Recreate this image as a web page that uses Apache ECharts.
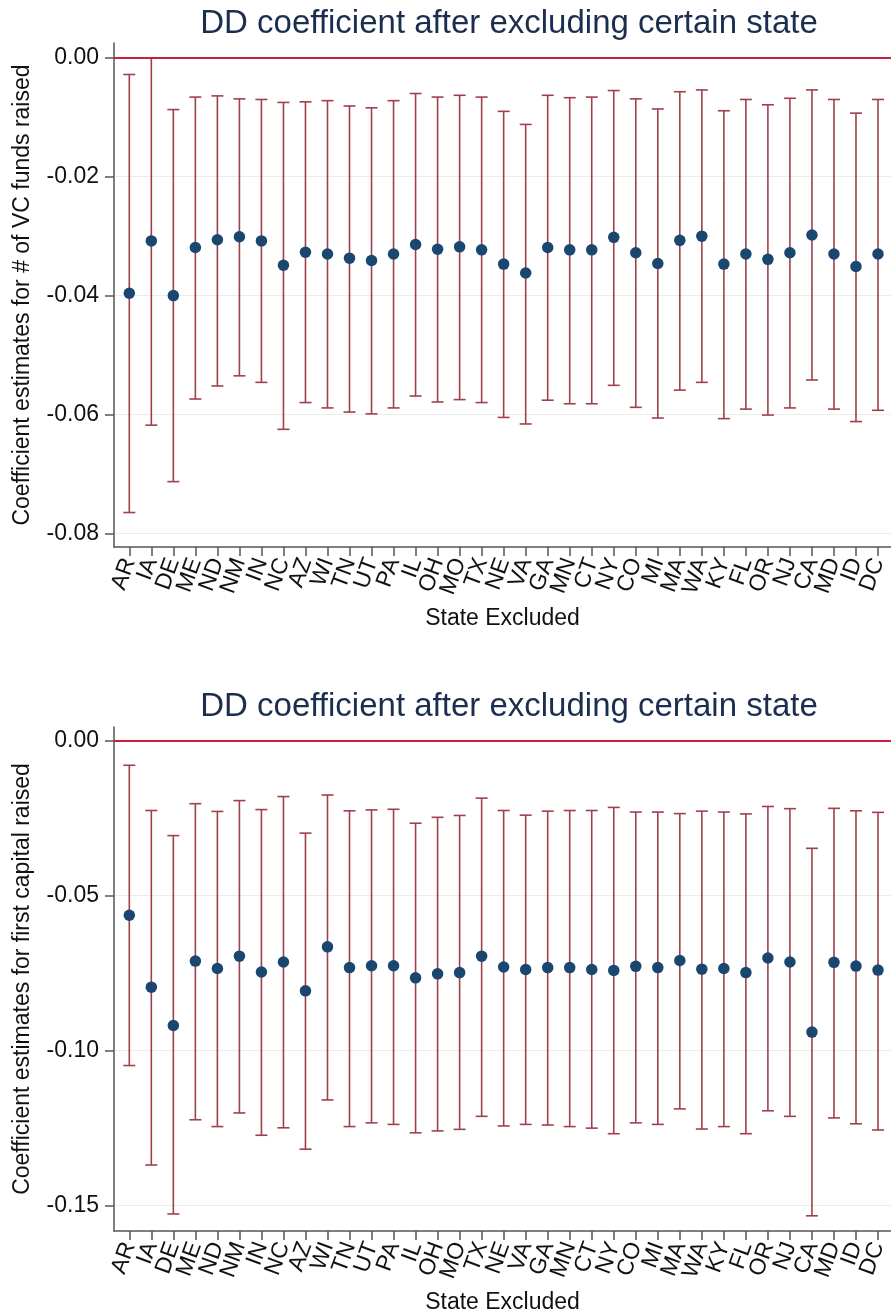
<!DOCTYPE html>
<html>
<head>
<meta charset="utf-8">
<script src="https://cdn.jsdelivr.net/npm/echarts@6/dist/echarts.min.js"></script>
<style>
html,body{margin:0;padding:0;background:#fff;}
#c{width:891px;height:1315px;}
</style>
</head>
<body>
<div id="c"></div>
<script>
// ---- data ----
const states = ['AR','IA','DE','ME','ND','NM','IN','NC','AZ','WI','TN','UT','PA','IL','OH','MO','TX','NE','VA','GA','MN','CT','NY','CO','MI','MA','WA','KY','FL','OR','NJ','CA','MD','ID','DC'];

const vcCoef  = [-0.0396,-0.0308,-0.0400,-0.0319,-0.0306,-0.0301,-0.0308,-0.0349,-0.0327,-0.0330,-0.0337,-0.0341,-0.0330,-0.0314,-0.0322,-0.0318,-0.0323,-0.0347,-0.0362,-0.0319,-0.0323,-0.0323,-0.0302,-0.0328,-0.0346,-0.0307,-0.0300,-0.0347,-0.0330,-0.0339,-0.0328,-0.0298,-0.0330,-0.0351,-0.0330];
const vcUpper = [-0.0028,0.0000,-0.0087,-0.0066,-0.0064,-0.0069,-0.0070,-0.0075,-0.0074,-0.0072,-0.0081,-0.0084,-0.0072,-0.0060,-0.0066,-0.0063,-0.0066,-0.0090,-0.0112,-0.0063,-0.0067,-0.0066,-0.0055,-0.0069,-0.0086,-0.0057,-0.0054,-0.0089,-0.0070,-0.0079,-0.0068,-0.0054,-0.0070,-0.0093,-0.0070];
const vcLower = [-0.0765,-0.0618,-0.0713,-0.0574,-0.0552,-0.0535,-0.0546,-0.0625,-0.0580,-0.0589,-0.0596,-0.0599,-0.0589,-0.0569,-0.0579,-0.0575,-0.0580,-0.0605,-0.0616,-0.0576,-0.0582,-0.0582,-0.0551,-0.0588,-0.0606,-0.0559,-0.0546,-0.0607,-0.0591,-0.0601,-0.0589,-0.0542,-0.0591,-0.0612,-0.0593];

const capCoef  = [-0.0563,-0.0795,-0.0919,-0.0711,-0.0735,-0.0695,-0.0746,-0.0714,-0.0807,-0.0665,-0.0732,-0.0726,-0.0726,-0.0765,-0.0752,-0.0748,-0.0695,-0.0730,-0.0738,-0.0732,-0.0732,-0.0738,-0.0741,-0.0728,-0.0732,-0.0709,-0.0737,-0.0735,-0.0748,-0.0701,-0.0714,-0.0940,-0.0715,-0.0727,-0.0740];
const capUpper = [-0.0079,-0.0225,-0.0306,-0.0203,-0.0228,-0.0193,-0.0222,-0.0180,-0.0298,-0.0175,-0.0226,-0.0223,-0.0221,-0.0266,-0.0247,-0.0241,-0.0185,-0.0225,-0.0240,-0.0227,-0.0225,-0.0225,-0.0215,-0.0230,-0.0230,-0.0235,-0.0227,-0.0230,-0.0236,-0.0212,-0.0219,-0.0347,-0.0218,-0.0226,-0.0231];
const capLower = [-0.1048,-0.1369,-0.1527,-0.1223,-0.1245,-0.1201,-0.1273,-0.1249,-0.1318,-0.1159,-0.1245,-0.1233,-0.1238,-0.1265,-0.1259,-0.1254,-0.1212,-0.1243,-0.1238,-0.1240,-0.1245,-0.1250,-0.1268,-0.1233,-0.1238,-0.1188,-0.1253,-0.1245,-0.1268,-0.1194,-0.1212,-0.1533,-0.1217,-0.1236,-0.1256];

const yTicksVC  = [0, -0.02, -0.04, -0.06, -0.08];
const yTicksCap = [0, -0.05, -0.10, -0.15];

const titleText = 'DD coefficient after excluding certain state';
const yNameVC  = 'Coefficient estimates for # of VC funds raised';
const yNameCap = 'Coefficient estimates for first capital raised';
const xName = 'State Excluded';

// ---- style ----
const FONT = 'Liberation Sans, Arial, sans-serif';
const BAR = '#a0404b';
const DOT = '#1a476f';
const ZERO = '#c8203c';
const AXIS = '#555555';
const xIdx = states.map((s, i) => i);

// layout of the plot regions
const X_MIN = -0.695, X_MAX = 34.59, PLOT_LEFT = 114, PLOT_W = 777;
const UNIT = PLOT_W / (X_MAX - X_MIN);
const LBL_LEFT = PLOT_LEFT + (0 - X_MIN - 0.5) * UNIT;   // category bands aligned to value positions
const LBL_W = states.length * UNIT;
const TOPS = [43, 727], H = 504;

function errItem(params, api) {
  const x = api.value(0);
  const lo = api.coord([x, api.value(1)]);
  const hi = api.coord([x, api.value(2)]);
  const w = 6;
  const st = { stroke: BAR, lineWidth: 1.6 };
  return {
    type: 'group',
    children: [
      { type: 'line', shape: { x1: hi[0], y1: hi[1], x2: lo[0], y2: lo[1] }, style: st },
      { type: 'line', shape: { x1: hi[0] - w, y1: hi[1], x2: hi[0] + w, y2: hi[1] }, style: st },
      { type: 'line', shape: { x1: lo[0] - w, y1: lo[1], x2: lo[0] + w, y2: lo[1] }, style: st }
    ]
  };
}

function xAxisCfg(gi) {
  return {
    type: 'value', gridIndex: gi, min: X_MIN, max: X_MAX,
    name: xName, nameLocation: 'middle', nameGap: 60,
    nameTextStyle: { fontFamily: FONT, fontSize: 23, color: '#111' },
    axisLine: { show: true, onZero: false, lineStyle: { color: AXIS, width: 1.5 } },
    axisTick: { show: true, customValues: xIdx, length: 9, lineStyle: { color: AXIS, width: 1.5 } },
    axisLabel: { show: false },
    splitLine: { show: false }
  };
}

function xLabelAxisCfg(gi) {
  return {
    type: 'category', gridIndex: gi, data: states, boundaryGap: true,
    axisLine: { show: false }, axisTick: { show: false }, splitLine: { show: false },
    axisLabel: { interval: 0, rotate: 70, margin: 12, fontFamily: FONT, fontSize: 23, color: '#111' }
  };
}

function yAxisCfg(gi, min, max, ticks, name) {
  return {
    type: 'value', gridIndex: gi, min: min, max: max,
    name: name, nameLocation: 'middle', nameGap: 80,
    nameTextStyle: { fontFamily: FONT, fontSize: 23, color: '#111' },
    axisLine: { show: true, onZero: false, lineStyle: { color: AXIS, width: 1.5 } },
    axisTick: { show: true, customValues: ticks, length: 9, lineStyle: { color: AXIS, width: 1.5 } },
    axisLabel: { customValues: ticks, margin: 15, fontFamily: FONT, fontSize: 23, color: '#111',
                 showMinLabel: true, showMaxLabel: true,
                 formatter: v => (Math.abs(v) < 1e-9 ? 0 : v).toFixed(2) },
    splitLine: { show: true, lineStyle: { color: '#ececec', width: 1 } }
  };
}

function hiddenY(gi) {
  return { type: 'value', gridIndex: gi, show: false, min: 0, max: 1 };
}

function seriesFor(gi, coef, lower, upper) {
  return [
    {
      type: 'custom', xAxisIndex: gi, yAxisIndex: gi, renderItem: errItem,
      data: xIdx.map(i => [i, lower[i], upper[i]]), z: 2, silent: true
    },
    {
      type: 'scatter', xAxisIndex: gi, yAxisIndex: gi, symbol: 'circle', symbolSize: 11.5,
      itemStyle: { color: DOT, opacity: 1 }, z: 4, silent: true,
      data: xIdx.map(i => [i, coef[i]]),
      markLine: {
        silent: true, symbol: ['none', 'none'], label: { show: false },
        lineStyle: { color: ZERO, width: 1.8, type: 'solid' },
        data: [{ yAxis: 0 }]
      }
    }
  ];
}

const chart = echarts.init(document.getElementById('c'), null, { renderer: 'canvas' });
chart.setOption({
  backgroundColor: '#ffffff',
  animation: false,
  title: [
    { text: titleText, left: 504, top: 2, textAlign: 'center',
      textStyle: { fontFamily: FONT, fontSize: 33, fontWeight: 'normal', color: '#1c2e4f' } },
    { text: titleText, left: 504, top: 685, textAlign: 'center',
      textStyle: { fontFamily: FONT, fontSize: 33, fontWeight: 'normal', color: '#1c2e4f' } }
  ],
  grid: [
    { left: PLOT_LEFT, width: PLOT_W, top: TOPS[0], height: H },
    { left: PLOT_LEFT, width: PLOT_W, top: TOPS[1], height: H },
    { left: LBL_LEFT, width: LBL_W, top: TOPS[0], height: H },
    { left: LBL_LEFT, width: LBL_W, top: TOPS[1], height: H }
  ],
  xAxis: [xAxisCfg(0), xAxisCfg(1), xLabelAxisCfg(2), xLabelAxisCfg(3)],
  yAxis: [
    yAxisCfg(0, -0.0823, 0.0025, yTicksVC, yNameVC),
    yAxisCfg(1, -0.1582, 0.00445, yTicksCap, yNameCap),
    hiddenY(2), hiddenY(3)
  ],
  series: [].concat(seriesFor(0, vcCoef, vcLower, vcUpper), seriesFor(1, capCoef, capLower, capUpper))
});
</script>
</body>
</html>
